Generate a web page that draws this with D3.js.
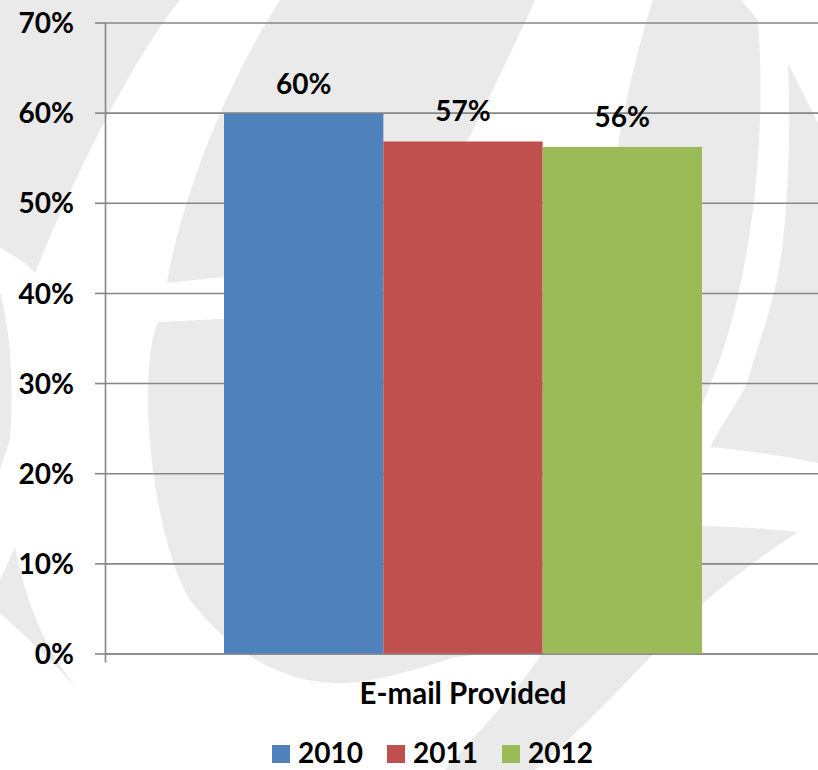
<!DOCTYPE html>
<html>
<head>
<meta charset="utf-8">
<script src="https://cdn.jsdelivr.net/npm/d3@7"></script>
<style>
  body { margin: 0; background: #fff; }
  svg { display: block; font-family: Lato, "Open Sans", sans-serif; font-weight: bold; }
</style>
</head>
<body>
<svg id="chart" width="818" height="770"></svg>
<script>
// chart data
var categories = ["E-mail Provided"];
var years = ["2010", "2011", "2012"];
var values = [0.599, 0.568, 0.562];
var yTicks = [0, 0.1, 0.2, 0.3, 0.4, 0.5, 0.6, 0.7];
var colors = ["#4f81bd", "#c0504d", "#9bbb59"];

var svg = d3.select("#chart"),
    margin = { top: 22.5, right: -3, bottom: 116.5, left: 105 },
    width = +svg.attr("width") - margin.left - margin.right,
    height = +svg.attr("height") - margin.top - margin.bottom;

svg.append("rect").attr("width", 818).attr("height", 770).attr("fill", "#fff");

// light watermark swooshes in the background
var bgShapes = [
    "M0,0 L180,0 C140,50 85,150 35,273 C25,262 12,254 0,248 Z",
    "M280,0 L535,0 C515,45 490,95 467,142 L430,275 L224,277 L167,283 C175,230 210,110 280,0 Z",
    "M158,322 L300,315 L600,300 L690,500 L560,630 C520,650 480,655 455,657 C400,675 360,685 331,683 C270,680 220,640 190,600 C160,550 148,450 148,400 C148,360 152,335 158,322 Z",
    "M690,526 Q745,526 798,532 C740,570 690,610 654,653 C610,700 570,740 535,770 L445,770 C480,730 510,700 541,655 C580,600 640,550 690,526 Z",
    "M788,63 L818,123 L818,463 C780,455 740,450 710,447 C725,420 738,400 745,388 C760,340 775,300 782,250 C790,180 790,120 788,63 Z",
    "M653,0 L741,0 L758,20 C764,100 760,200 737,300 C728,340 715,375 700,410 L650,400 C620,300 615,200 618,147 C625,100 640,40 653,0 Z",
    "M15,547 C25,600 45,650 77,688 C50,660 25,635 0,613 L0,580 Z",
    "M0,292 C10,330 14,380 10,440 L0,470 Z"
];
svg.append("g")
    .selectAll("path")
    .data(bgShapes)
    .enter().append("path")
    .attr("d", function (d) { return d; })
    .attr("fill", "#eaeaea");

var g = svg.append("g").attr("transform", "translate(" + margin.left + "," + margin.top + ")");

var y = d3.scaleLinear()
    .domain([0, 0.7])
    .range([height, 0]);

var x0 = d3.scaleBand()
    .domain(categories)
    .range([0, width]);

var x1 = d3.scaleBand()
    .domain(years)
    .range([0, x0.bandwidth()])
    .paddingOuter(0.747);

// gridlines
g.append("g")
    .attr("class", "grid")
    .call(d3.axisLeft(y).tickValues(yTicks).tickSize(-(818 - margin.left)).tickFormat(""))
    .call(function (s) { s.select(".domain").remove(); });

// y axis
var yAxis = g.append("g")
    .attr("class", "axis")
    .call(d3.axisLeft(y).tickValues(yTicks).tickFormat(d3.format(".0%"))
        .tickSize(10).tickSizeOuter(0).tickPadding(21));

// x axis
var xAxis = g.append("g")
    .attr("class", "axis")
    .attr("transform", "translate(0," + height + ")")
    .call(d3.axisBottom(x0).tickSizeInner(0).tickSizeOuter(9).tickPadding(29.6));

svg.selectAll(".grid .tick line, .axis .tick line, .axis .domain")
    .attr("stroke", "#868686")
    .attr("stroke-width", 1.6);
svg.selectAll(".axis .tick text")
    .attr("fill", "#000")
    .attr("font-size", 28)
    .attr("font-family", "Lato, 'Open Sans', sans-serif")
    .attr("font-weight", "bold");
yAxis.selectAll(".tick text").attr("dy", "0.36em");
xAxis.selectAll(".tick text").attr("font-size", 29.5);

// bars
var groups = g.append("g")
    .selectAll("g")
    .data(categories)
    .enter().append("g")
    .attr("transform", function (d) { return "translate(" + x0(d) + ",0)"; });

var barData = years.map(function (yr, i) { return { year: yr, value: values[i], color: colors[i] }; });

groups.selectAll("rect")
    .data(barData)
    .enter().append("rect")
    .attr("x", function (d) { return x1(d.year); })
    .attr("y", function (d) { return y(d.value); })
    .attr("width", x1.bandwidth())
    .attr("height", function (d) { return height - y(d.value); })
    .attr("fill", function (d) { return d.color; });

groups.selectAll("text.value")
    .data(barData)
    .enter().append("text")
    .attr("class", "value")
    .attr("x", function (d) { return x1(d.year) + x1.bandwidth() / 2; })
    .attr("y", function (d) { return y(d.value) - 20; })
    .attr("text-anchor", "middle")
    .attr("font-size", 28)
    .attr("fill", "#000")
    .text(function (d) { return d3.format(".0%")(d.value); });

// legend
var legend = svg.append("g")
    .attr("font-size", 28)
    .selectAll("g")
    .data(barData)
    .enter().append("g")
    .attr("transform", function (d, i) { return "translate(" + (272 + i * 115) + ",745)"; });

legend.append("rect")
    .attr("width", 18)
    .attr("height", 18)
    .attr("fill", function (d) { return d.color; });

legend.append("text")
    .attr("x", 26)
    .attr("y", 17.7)
    .attr("fill", "#000")
    .text(function (d) { return d.year; });
</script>
</body>
</html>
